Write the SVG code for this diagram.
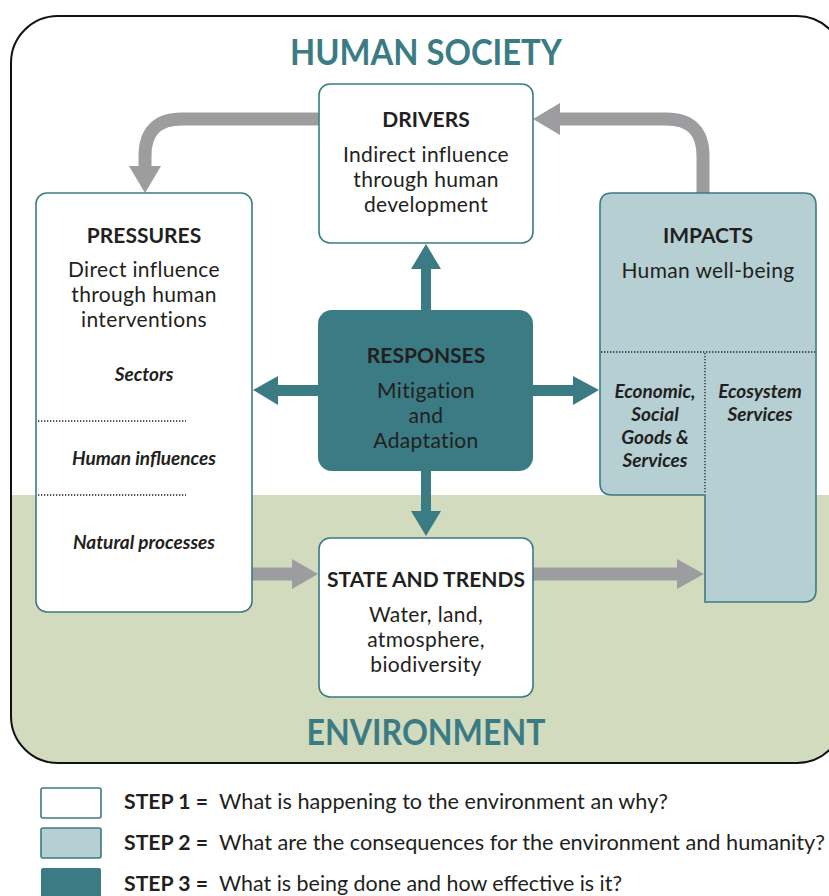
<svg xmlns="http://www.w3.org/2000/svg" width="829" height="896" viewBox="0 0 829 896">
<style>
.box{fill:#fff;stroke:#3b7b83;stroke-width:1.6}
.imp{fill:#b5cfd3;stroke:#3b7b83;stroke-width:1.6}
.resp{fill:#3b7b83}
.gray{fill:none;stroke:#9d9d9f;stroke-width:13}
.grayh{fill:#9d9d9f}
.teal{fill:#3b7b83}
.dot{stroke:#231f20;stroke-width:1.3;stroke-dasharray:1.3 1.7;fill:none}
text{font-family:Lato,"Liberation Sans",sans-serif;fill:#231f20;text-anchor:middle}
.h{font-size:21px;font-weight:700}
.b{font-size:21px;letter-spacing:0.35px}
.i{font-size:19px;font-style:italic;font-weight:700}
.big{font-size:37px;font-weight:700;fill:#3b7b83}
.lg{font-size:20.5px;text-anchor:start}
.lgb{font-size:20.5px;font-weight:700;text-anchor:start}
</style>
<g id="frame">
<rect x="11" y="16" width="833" height="747" rx="47" fill="#fff"/>
<path d="M11,495 H844 V716 A47,47 0 0 1 797,763 H58 A47,47 0 0 1 11,716 Z" fill="#d3dbbf"/>
<rect x="11" y="16" width="833" height="747" rx="47" fill="none" stroke="#111" stroke-width="2"/>
<text class="big" x="426" y="65" textLength="272" lengthAdjust="spacingAndGlyphs">HUMAN SOCIETY</text>
<text class="big" x="426" y="745" textLength="239" lengthAdjust="spacingAndGlyphs">ENVIRONMENT</text>
</g>
<g id="connectors">
<path class="gray" d="M319,119 H182 Q145,119 145,156 V168"/>
<polygon class="grayh" points="129,166 161,166 145,193"/>
<path class="gray" d="M703,193 V156 Q703,119 666,119 H558"/>
<polygon class="grayh" points="560,103 560,135 533,119"/>
<path class="gray" d="M252,574 H294"/>
<polygon class="grayh" points="292,559 292,589 318,574"/>
<path class="gray" d="M533,574 H679"/>
<polygon class="grayh" points="677,559 677,589 704,574"/>
<rect class="teal" x="421" y="267" width="10" height="44"/>
<polygon class="teal" points="411,269 441,269 426,244"/>
<rect class="teal" x="276" y="385" width="43" height="11"/>
<polygon class="teal" points="278,376 278,405 253,390"/>
<rect class="teal" x="532" y="385" width="43" height="11"/>
<polygon class="teal" points="573,376 573,405 599,390"/>
<rect class="teal" x="421" y="469" width="10" height="44"/>
<polygon class="teal" points="411,511 441,511 426,536"/>
</g>
<g id="drivers">
<rect class="box" x="319" y="84" width="214" height="159" rx="11"/>
<text class="h" x="426" y="127">DRIVERS</text>
<text class="b" x="426" y="162">Indirect influence</text>
<text class="b" x="426" y="187">through human</text>
<text class="b" x="426" y="212">development</text>
</g>
<g id="pressures">
<rect class="box" x="36" y="193" width="216" height="419" rx="11"/>
<text class="h" x="144" y="243">PRESSURES</text>
<text class="b" x="144" y="277">Direct influence</text>
<text class="b" x="144" y="302">through human</text>
<text class="b" x="144" y="327">interventions</text>
<text class="i" x="144" y="381">Sectors</text>
<line class="dot" x1="38" y1="421" x2="186" y2="421"/>
<text class="i" x="144" y="465">Human influences</text>
<line class="dot" x1="38" y1="495" x2="186" y2="495"/>
<text class="i" x="144" y="549">Natural processes</text>
</g>
<g id="impacts">
<path class="imp" d="M612,193 H804 Q816,193 816,205 V590 Q816,602 804,602 H705 V495 H612 Q600,495 600,483 V205 Q600,193 612,193 Z"/>
<line class="dot" x1="601" y1="352" x2="815" y2="352"/>
<line class="dot" x1="705" y1="353" x2="705" y2="494"/>
<text class="h" x="708" y="243">IMPACTS</text>
<text class="b" x="708" y="278">Human well-being</text>
<text class="i" x="655" y="398">Economic,</text>
<text class="i" x="655" y="421">Social</text>
<text class="i" x="655" y="444">Goods &amp;</text>
<text class="i" x="655" y="467">Services</text>
<text class="i" x="760" y="398">Ecosystem</text>
<text class="i" x="760" y="421">Services</text>
</g>
<g id="responses">
<rect class="resp" x="318" y="310" width="215" height="161" rx="14"/>
<text class="h" x="426" y="363">RESPONSES</text>
<text class="b" x="426" y="398">Mitigation</text>
<text class="b" x="426" y="423">and</text>
<text class="b" x="426" y="448">Adaptation</text>
</g>
<g id="state">
<rect class="box" x="319" y="538" width="214" height="159" rx="11"/>
<text class="h" x="426" y="587">STATE AND TRENDS</text>
<text class="b" x="426" y="622">Water, land,</text>
<text class="b" x="426" y="647">atmosphere,</text>
<text class="b" x="426" y="672">biodiversity</text>
</g>
<g id="legend">
<rect class="box" x="41" y="788" width="60" height="30" rx="2"/>
<rect class="imp" x="41" y="828" width="60" height="30" rx="2"/>
<rect class="resp" x="41" y="868" width="60" height="32" rx="2"/>
<text class="lgb" x="124" y="809" textLength="84" lengthAdjust="spacingAndGlyphs">STEP 1 =</text>
<text class="lg" x="219" y="809" textLength="449" lengthAdjust="spacingAndGlyphs">What is happening to the environment an why?</text>
<text class="lgb" x="124" y="850" textLength="84" lengthAdjust="spacingAndGlyphs">STEP 2 =</text>
<text class="lg" x="219" y="850" textLength="606" lengthAdjust="spacingAndGlyphs">What are the consequences for the environment and humanity?</text>
<text class="lgb" x="124" y="891" textLength="84" lengthAdjust="spacingAndGlyphs">STEP 3 =</text>
<text class="lg" x="219" y="891" textLength="403" lengthAdjust="spacingAndGlyphs">What is being done and how effective is it?</text>
</g>
</svg>
